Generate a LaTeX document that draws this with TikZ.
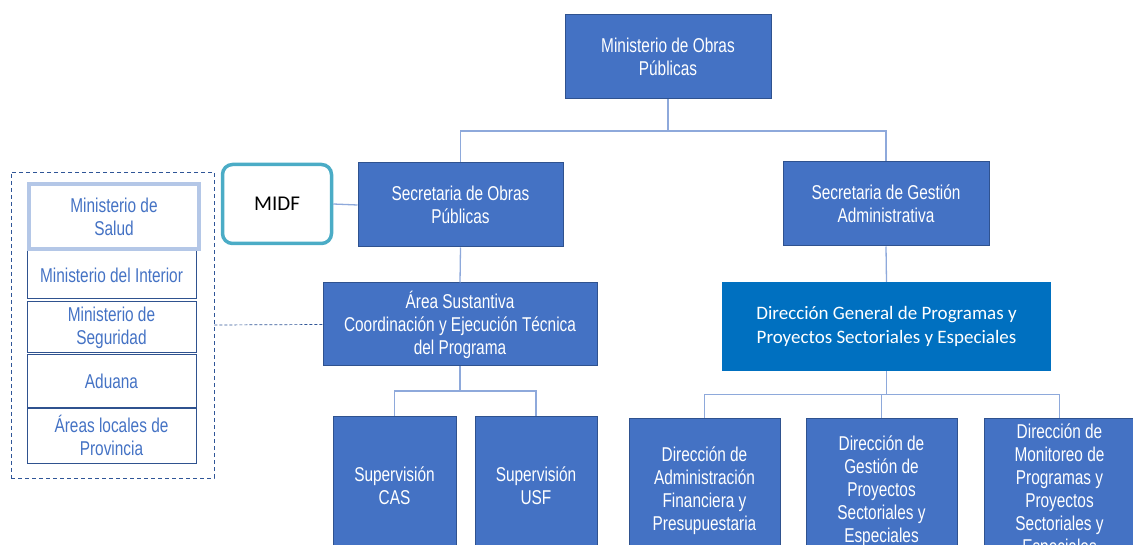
\documentclass[tikz,border=0pt]{standalone}
\usepackage{fontspec}
\setmainfont{Liberation Sans}
\newfontfamily\narrowfont{Liberation Sans}[FakeStretch=0.77]
\newfontfamily\calibrifont{Carlito}
\usetikzlibrary{calc}

\definecolor{boxfill}{HTML}{4472C4}
\definecolor{boxedge}{HTML}{2F528F}
\definecolor{linkcol}{HTML}{8EA9DB}
\definecolor{midfedge}{HTML}{4BACC6}
\definecolor{saludedge}{HTML}{B4C7E7}
\definecolor{dgfill}{HTML}{0070C0}
\definecolor{paneledge}{HTML}{2F5597}

\tikzset{
	unit/.style = {draw = boxedge, fill = boxfill, line width = 1pt, text = white, align = center, inner sep = 0pt, font = \narrowfont\fontsize{20}{23}\selectfont},
	member/.style = {draw = boxedge, line width = 1pt, text = boxfill, align = center, inner sep = 0pt, minimum width = 169pt, font = \narrowfont\fontsize{20}{23}\selectfont},
	link/.style = {draw = linkcol, line width = 1.3pt},
}

\begin{document}
\begin{tikzpicture}[x = 1pt, y = -1pt]
		\useasboundingbox (0,0) rectangle (1133,545);
		\clip (0,0) rectangle (1133,545);
		
		% top levels
		\node [unit, minimum width = 206pt, minimum height = 84pt] (mop) at (668,57) {Ministerio de Obras\\Públicas};
		\node [unit, minimum width = 205pt, minimum height = 84pt] (sop) at (460.5,205) {Secretaria de Obras\\Públicas};
		\node [unit, minimum width = 206pt, minimum height = 84pt] (sga) at (886,204) {Secretaria de Gestión\\Administrativa};
		\node [draw = midfedge, line width = 3.5pt, rounded corners = 10pt, minimum width = 109pt, minimum height = 79pt, inner sep = 0pt, font = \calibrifont\fontsize{21}{24}\selectfont] (midf) at (277,204) {MIDF};
		
		% second levels
		\node [unit, minimum width = 274pt, minimum height = 83pt] (area) at (460,324.5) {Área Sustantiva\\Coordinación y Ejecución Técnica\\del Programa};
		\node [fill = dgfill, text = white, align = center, inner sep = 0pt, minimum width = 329pt, minimum height = 89pt, font = \calibrifont\fontsize{19}{23.3}\selectfont] (dg) at (886.5,326.5) {Dirección General de Programas y\\Proyectos Sectoriales y Especiales};
		
		% bottom levels
		\begin{scope}[every node/.style = {unit, minimum height = 146pt}]
			\node [minimum width = 123pt, minimum height = 140pt] (cas) at (394.5,486) {Supervisión\\CAS};
			\node [minimum width = 122pt, minimum height = 140pt] (usf) at (536,486) {Supervisión\\USF};
			\node [minimum width = 151pt] (dadm) at (704.5,491) {Dirección de\\Administración\\Financiera y\\Presupuestaria};
			\node [minimum width = 151pt] (dges) at (881.5,491) {Dirección de\\Gestión de\\Proyectos\\Sectoriales y\\Especiales};
			\node [minimum width = 151pt] (dmon) at (1059.5,491) {Dirección de\\Monitoreo de\\Programas y\\Proyectos\\Sectoriales y\\Especiales};
		\end{scope}
		
		% left panel
		\node [draw = paneledge, dash pattern = on 4pt off 3pt, line width = 0.9pt, minimum width = 203pt, minimum height = 306pt] (panel) at (112.5,325) {};
		\node [member, minimum height = 48pt] (interior) at (111.5,275) {Ministerio del Interior};
		\node [member, minimum height = 51pt] (seguridad) at (111.5,327.5) {Ministerio de\\Seguridad};
		\node [member, minimum height = 52pt] (aduana) at (111.5,381) {Aduana};
		\node [member, minimum height = 55pt] (areas) at (111.5,435.5) {Áreas locales de\\Provincia};
		\node [member, draw = saludedge, fill = white, line width = 4pt, minimum width = 170pt, minimum height = 65pt] (salud) at (114,216.5) {Ministerio de\\Salud};
		
		% connectors
		\coordinate (top fork) at ($(mop.south)!0.5!(mop.south |- sop.north)$);
		\draw [link] (mop.south) -- (top fork) -| (sop.north);
		\draw [link] (top fork) -| (sga.north);
		\draw [link] (sop.south) -- (area.north);
		\draw [link] (sga.south) -- (dg.north);
		\draw [link] (midf.east) -- (sop.west);
		
		\coordinate (area fork) at ($(area.south)!0.5!(area.south |- cas.north)$);
		\draw [link] (area.south) -- (area fork) -| (cas.north);
		\draw [link] (area fork) -| (usf.north);
		
		\coordinate (dg fork) at ($(dg.south)!0.5!(dg.south |- dges.north)$);
		\draw [link] (dg.south) -- (dg fork) -| (dadm.north);
		\draw [link] (dg fork) -| (dges.north);
		\draw [link] (dg fork) -| (dmon.north);
		
		\draw [draw = paneledge, dash pattern = on 3pt off 2pt, line width = 0.7pt] (panel.east) -- (area.west);
	\end{tikzpicture}
\end{document}
